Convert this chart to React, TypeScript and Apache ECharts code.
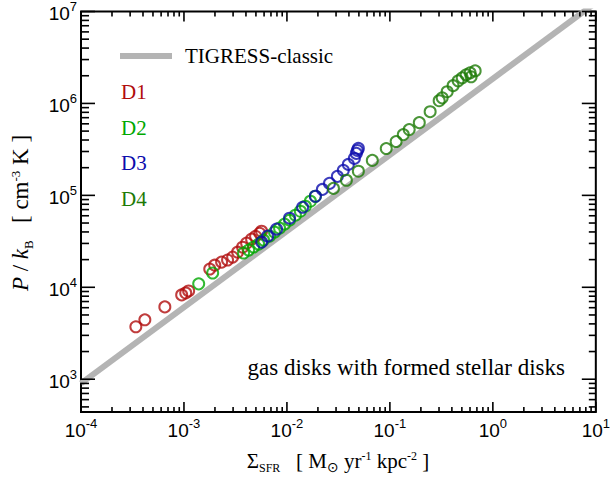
import React, { useEffect, useRef } from "react";
import * as echarts from "echarts";

// Star-formation rate surface density [Msun/yr/kpc^2] and midplane pressure P/k_B [cm^-3 K]
const sigmaD1 = [3.41e-4, 4.17e-4, 6.52e-4, 9.5e-4, 1.04e-3, 1.11e-3, 1.78e-3, 1.99e-3, 2.32e-3, 2.65e-3, 2.97e-3, 3.32e-3, 3.71e-3, 4.06e-3, 4.54e-3, 4.96e-3, 5.43e-3, 5.67e-3];
const pressureD1 = [3.72e3, 4.43e3, 6.12e3, 8.26e3, 8.67e3, 9.12e3, 1.58e4, 1.74e4, 1.88e4, 1.98e4, 2.13e4, 2.41e4, 2.73e4, 3.02e4, 3.34e4, 3.59e4, 3.87e4, 4.07e4];

const sigmaD2 = [1.39e-3, 1.9e-3, 3.79e-3, 4.25e-3, 4.75e-3, 5.31e-3, 5.93e-3, 6.78e-3, 7.58e-3, 8.48e-3, 9.48e-3, 1.06e-2, 1.21e-2, 1.35e-2, 1.51e-2, 1.69e-2, 1.89e-2];
const pressureD2 = [1.09e4, 1.43e4, 2.36e4, 2.54e4, 2.74e4, 2.95e4, 3.26e4, 3.6e4, 3.98e4, 4.4e4, 4.86e4, 5.37e4, 6.08e4, 6.72e4, 7.62e4, 8.63e4, 9.78e4];

const sigmaD3 = [5.68e-3, 6.49e-3, 7.93e-3, 1.06e-2, 1.42e-2, 1.89e-2, 2.21e-2, 2.59e-2, 3.09e-2, 3.53e-2, 3.95e-2, 4.52e-2, 4.72e-2, 4.83e-2, 4.94e-2];
const pressureD3 = [3.1e4, 3.6e4, 4.29e4, 5.64e4, 7.42e4, 9.78e4, 1.16e5, 1.35e5, 1.61e5, 1.87e5, 2.17e5, 2.52e5, 2.86e5, 3.08e5, 3.24e5];

const sigmaD4 = [2.83e-2, 3.78e-2, 4.94e-2, 6.75e-2, 9.22e-2, 0.115, 0.135, 0.154, 0.193, 0.246, 0.301, 0.322, 0.36, 0.411, 0.46, 0.504, 0.55, 0.601, 0.673, 0.615];
const pressureD4 = [1.19e5, 1.46e5, 1.83e5, 2.4e5, 3.23e5, 3.85e5, 4.58e5, 5.19e5, 6.18e5, 8.13e5, 1.07e6, 1.15e6, 1.34e6, 1.56e6, 1.76e6, 1.9e6, 2.05e6, 2.15e6, 2.26e6, 1.95e6];

// TIGRESS-classic pressure-regulated relation, end points
const relationSigma = [1e-4, 10];
const relationPressure = [900, 1.25e7];

// Axis ranges and tick decades
const xRange = [1e-4, 10];
const yRange = [440, 1e7];
const xMajorExp = [-4, -3, -2, -1, 0, 1];
const yMajorExp = [3, 4, 5, 6, 7];
const minorMantissas = [2, 3, 4, 5, 6, 7, 8, 9];

const sets = [
  { name: "D1", sigma: sigmaD1, pressure: pressureD1, color: "#b00c0c" },
  { name: "D2", sigma: sigmaD2, pressure: pressureD2, color: "#00a800" },
  { name: "D3", sigma: sigmaD3, pressure: pressureD3, color: "#0c0cac" },
  { name: "D4", sigma: sigmaD4, pressure: pressureD4, color: "#1d7a06" },
];

const SERIF = "Liberation Serif";
const SANS = "Liberation Sans";

function minorTicks(lo: number, hi: number): number[] {
  const out: number[] = [];
  for (let n = Math.floor(lo) - 1; n <= Math.ceil(hi); n++) {
    for (const k of minorMantissas) {
      const v = Math.log10(k) + n;
      if (v > lo + 1e-6 && v < hi - 1e-6) out.push(v);
    }
  }
  return out;
}

export default function App() {
  const ref = useRef<HTMLDivElement>(null);

  useEffect(() => {
    if (!ref.current) return;
    const chart = echarts.init(ref.current, null, { renderer: "svg" });

    const xMin = Math.log10(xRange[0]);
    const xMax = Math.log10(xRange[1]);
    const yMin = Math.log10(yRange[0]);
    const yMax = Math.log10(yRange[1]);
    const xMinor = minorTicks(xMin, xMax);
    const yMinor = minorTicks(yMin, yMax);

    const tickLabelRich = {
      b: { fontSize: 19, fontFamily: SANS, color: "#000", lineHeight: 23, verticalAlign: "bottom" },
      e: { fontSize: 13, fontFamily: SANS, color: "#000", lineHeight: 13, verticalAlign: "top" },
    };
    const fmt = (v: number) => `{b|10}{e|${Math.round(v)}}`;

    const scatterSeries = sets.map((s, i) => ({
      type: "scatter",
      name: s.name,
      symbol: "circle",
      symbolSize: 11,
      z: 3 + i,
      itemStyle: { color: "rgba(0,0,0,0)", borderColor: s.color, borderWidth: 2 },
      data: s.sigma.map((v, j) => [Math.log10(v), Math.log10(s.pressure[j])]),
    }));

    // Tick marks drawn as thin rectangles sitting on the frame, pointing inward
    const W = 1.6;
    const tickSeries = (points: number[][], size: number[], offset: number[]) => ({
      type: "scatter",
      silent: true,
      clip: false,
      z: 10,
      symbol: "rect",
      symbolSize: size,
      symbolOffset: offset,
      itemStyle: { color: "#000", opacity: 1 },
      data: points,
    });
    const ticks = [
      tickSeries(xMajorExp.map((v) => [v, yMin]), [W, 10], [0, -5]),
      tickSeries(xMajorExp.map((v) => [v, yMax]), [W, 10], [0, 5]),
      tickSeries(xMinor.map((v) => [v, yMin]), [W, 5], [0, -2.5]),
      tickSeries(xMinor.map((v) => [v, yMax]), [W, 5], [0, 2.5]),
      tickSeries(yMajorExp.map((v) => [xMin, v]), [14, W], [7, 0]),
      tickSeries(yMajorExp.map((v) => [xMax, v]), [14, W], [-7, 0]),
      tickSeries(yMinor.map((v) => [xMin, v]), [8, W], [4, 0]),
      tickSeries(yMinor.map((v) => [xMax, v]), [7, W], [-3.5, 0]),
    ];

    const legendRows = sets.map((s, i) => ({
      type: "text",
      x: 121,
      y: 92 + i * 35.7,
      style: { text: s.name, fill: s.color, fontFamily: SERIF, fontSize: 21, verticalAlign: "middle" },
    }));

    chart.setOption({
      animation: false,
      backgroundColor: "#fff",
      grid: { left: 81, right: 16, top: 10, bottom: 67, show: true, borderColor: "#000", borderWidth: 2, backgroundColor: "transparent" },
      xAxis: {
        type: "value",
        min: xMin,
        max: xMax,
        axisLine: { show: false },
        axisTick: { show: false },
        splitLine: { show: false },
        axisLabel: { show: true, customValues: xMajorExp, margin: 5, formatter: fmt, rich: tickLabelRich },
      },
      yAxis: {
        type: "value",
        min: yMin,
        max: yMax,
        axisLine: { show: false },
        axisTick: { show: false },
        splitLine: { show: false },
        axisLabel: { show: true, customValues: yMajorExp, margin: 4, formatter: fmt, rich: tickLabelRich },
      },
      series: [
        {
          type: "line",
          name: "TIGRESS-classic",
          symbol: "none",
          clip: true,
          z: 2,
          lineStyle: { color: "#b4b4b4", width: 6 },
          data: relationSigma.map((v, j) => [Math.log10(v), Math.log10(relationPressure[j])]),
        },
        ...scatterSeries,
        ...ticks,
      ],
      graphic: [
        {
          type: "line",
          shape: { x1: 120, y1: 56, x2: 172, y2: 56 },
          style: { stroke: "#b4b4b4", lineWidth: 6 },
        },
        {
          type: "text",
          x: 185,
          y: 56,
          style: { text: "TIGRESS-classic", fill: "#000", fontFamily: SERIF, fontSize: 21, verticalAlign: "middle" },
        },
        ...legendRows,
        {
          type: "text",
          x: 565,
          y: 367,
          style: {
            text: "gas disks with formed stellar disks",
            fill: "#000",
            fontFamily: SERIF,
            fontSize: 23,
            align: "right",
            verticalAlign: "middle",
          },
        },
        {
          type: "text",
          x: 338,
          y: 462,
          style: {
            text: "{t|Σ}{sub|SFR}{t|   [ M}{sun|⊙}{t| yr}{sup|-1}{t| kpc}{sup|-2}{t| ]}",
            align: "center",
            verticalAlign: "middle",
            rich: {
              t: { fontSize: 21, fontFamily: SERIF, fill: "#000", lineHeight: 24, verticalAlign: "top" },
              sub: { fontSize: 12, fontFamily: SERIF, fill: "#000", lineHeight: 13, verticalAlign: "bottom" },
              sun: { fontSize: 14, fontFamily: "DejaVu Sans", fill: "#000", lineHeight: 15, verticalAlign: "bottom" },
              sup: { fontSize: 12, fontFamily: SERIF, fill: "#000", lineHeight: 13, verticalAlign: "top" },
            },
          },
        },
        {
          type: "text",
          x: 22,
          y: 213,
          rotation: Math.PI / 2,
          style: {
            text: "{i|P}{t| / }{i|k}{sub|B}{t|   [ cm}{sup|-3}{t| K ]}",
            align: "center",
            verticalAlign: "middle",
            rich: {
              t: { fontSize: 23, fontFamily: SERIF, fill: "#000", lineHeight: 26, verticalAlign: "top" },
              i: { fontSize: 23, fontFamily: SERIF, fontStyle: "italic", fill: "#000", lineHeight: 26, verticalAlign: "top" },
              sub: { fontSize: 13, fontFamily: SERIF, fill: "#000", lineHeight: 13, verticalAlign: "bottom" },
              sup: { fontSize: 13, fontFamily: SERIF, fill: "#000", lineHeight: 13, verticalAlign: "top" },
            },
          },
        },
      ],
    });

    return () => chart.dispose();
  }, []);

  return (
    <div
      ref={ref}
      style={{ position: "fixed", left: 0, top: 0, width: 613, height: 479, background: "#fff" }}
    />
  );
}
